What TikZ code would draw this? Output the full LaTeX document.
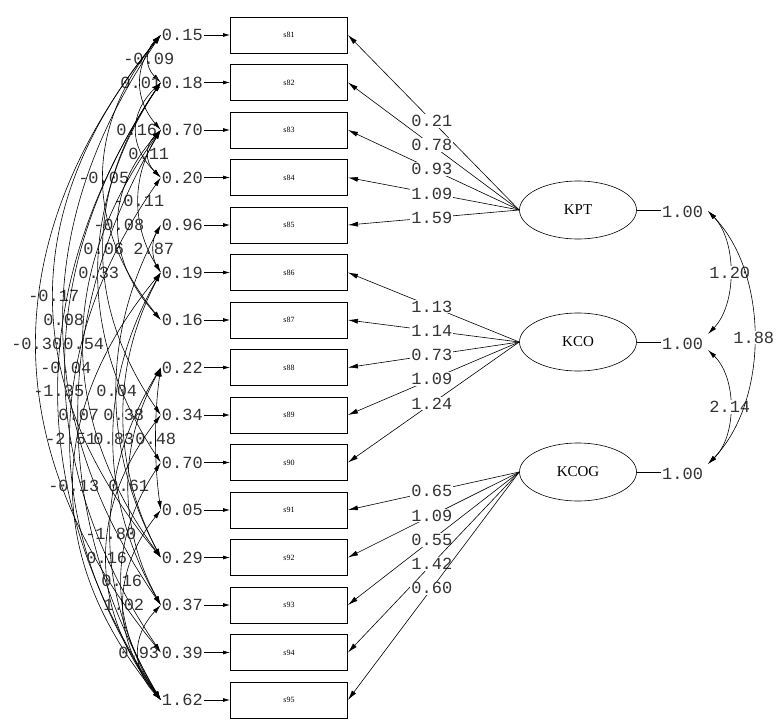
\documentclass[tikz,border=0pt]{standalone}
\usepackage{fontspec}
\setmainfont{Liberation Mono}
\newfontfamily\serfont{Liberation Serif}
\usetikzlibrary{arrows.meta,calc,shapes.geometric}
\newcommand\covarc[4]{%
  \pgfmathsetmacro\myC{(162-#3)/0.75}%
  \pgfmathsetmacro\myA{0.33*47.5*(#2-#1)}%
  \draw[cov] (e#1.west) .. controls ($(e#1.west)+(-\myC,\myA)$) and ($(e#2.west)+(-\myC,-\myA)$) .. node[num,pos=0.5]{#4} (e#2.west);
}
\begin{document}
\begin{tikzpicture}[x=1pt,y=-1pt,
  obs/.style={draw, line width=0.9pt, minimum width=117pt, minimum height=36pt, inner sep=0pt, font=\serfont\fontsize{8}{8}\selectfont},
  lat/.style={draw, ellipse, line width=0.6pt, minimum width=117pt, minimum height=58pt, inner sep=0pt, font=\serfont\fontsize{15}{15}\selectfont},
  num/.style={font=\fontsize{17}{17}\selectfont, text=black!80, inner sep=1pt},
  lbl/.style={num, fill=white},
  pth/.style={line width=0.6pt, -{Latex[length=10pt,width=5pt]}},
  cov/.style={line width=0.6pt, {Latex[length=9pt,width=4.5pt]}-{Latex[length=9pt,width=4.5pt]}},
  err/.style={line width=0.7pt, -{Latex[length=7pt,width=4pt]}},
]
\useasboundingbox (0,0) rectangle (777,720);
% observed boxes
\foreach \k [count=\n from 0] in {81,...,95}
  \node[obs] (s\k) at (289,{35+47.5*\n}) {s\k};
% error variances
\foreach \v [count=\n from 0] in {0.15,0.18,0.70,0.20,0.96,0.19,0.16,0.22,0.34,0.70,0.05,0.29,0.37,0.39,1.62}{
  \pgfmathtruncatemacro\k{81+\n}
  \node[num, anchor=east] (e\k) at (204,{35+47.5*\n}) {\v};
  \draw[err] (e\k.east) -- (s\k.west);
}
% latent variables
\node[lat] (KPT) at (578,210) {KPT};
\node[lat] (KCO) at (578,342) {KCO};
\node[lat] (KCOG) at (578,472) {KCOG};
\node[num, anchor=west] (v1) at (661,212) {1.00};
\node[num, anchor=west] (v2) at (661,344) {1.00};
\node[num, anchor=west] (v3) at (661,474) {1.00};
\draw[line width=0.6pt] (KPT.east) -- (v1.west |- KPT.east);
\draw[line width=0.6pt] (KCO.east) -- (v2.west |- KCO.east);
\draw[line width=0.6pt] (KCOG.east) -- (v3.west |- KCOG.east);
% loadings
\foreach \k/\v in {81/0.21,82/0.78,83/0.93,84/1.09,85/1.59}
  \draw[pth] (KPT.west) -- node[lbl,pos=0.51]{\v} (s\k.east);
\foreach \k/\v in {86/1.13,87/1.14,88/0.73,89/1.09,90/1.24}
  \draw[pth] (KCO.west) -- node[lbl,pos=0.51]{\v} (s\k.east);
\foreach \k/\v in {91/0.65,92/1.09,93/0.55,94/1.42,95/0.60}
  \draw[pth] (KCOG.west) -- node[lbl,pos=0.51]{\v} (s\k.east);
% latent covariances
\coordinate (t1) at (708,211);
\coordinate (t2a) at (708,334);
\coordinate (t2b) at (708,350);
\coordinate (t3) at (708,464);
\draw[cov] (t1) .. controls ($(t1)+(29,30)$) and ($(t2a)+(29,-30)$) .. node[lbl,pos=0.5]{1.20} (t2a);
\draw[cov] (t2b) .. controls ($(t2b)+(29,28)$) and ($(t3)+(29,-28)$) .. node[lbl,pos=0.5]{2.14} (t3);
\draw[cov] (t1) .. controls ($(t1)+(61,63)$) and ($(t3)+(61,-63)$) .. node[lbl,pos=0.5]{1.88} (t3);
% error covariances
\covarc{81}{82}{150}{-0.09}
\covarc{81}{83}{142}{0.01}
\covarc{82}{84}{138}{0.16}
\covarc{83}{84}{150}{0.11}
\covarc{81}{87}{105}{-0.05}
\covarc{83}{86}{140}{-0.11}
\covarc{83}{87}{120}{-0.08}
\covarc{82}{89}{105}{0.06}
\covarc{85}{86}{155}{2.87}
\covarc{82}{90}{100}{0.33}
\covarc{81}{92}{55}{-0.17}
\covarc{81}{93}{65}{0.08}
\covarc{81}{94}{38}{-0.30}
\covarc{83}{92}{85}{0.54}
\covarc{82}{94}{67}{-0.04}
\covarc{82}{95}{60}{-1.35}
\covarc{85}{92}{118}{0.04}
\covarc{83}{95}{80}{0.07}
\covarc{86}{92}{125}{0.38}
\covarc{84}{95}{72}{-2.51}
\covarc{86}{93}{115}{0.83}
\covarc{88}{91}{157}{0.48}
\covarc{86}{95}{75}{-0.13}
\covarc{88}{93}{130}{0.61}
\covarc{88}{95}{112}{-1.80}
\covarc{89}{95}{108}{0.16}
\covarc{90}{95}{123}{0.16}
\covarc{91}{95}{125}{1.02}
\covarc{93}{95}{140}{0.93}
\end{tikzpicture}
\end{document}
